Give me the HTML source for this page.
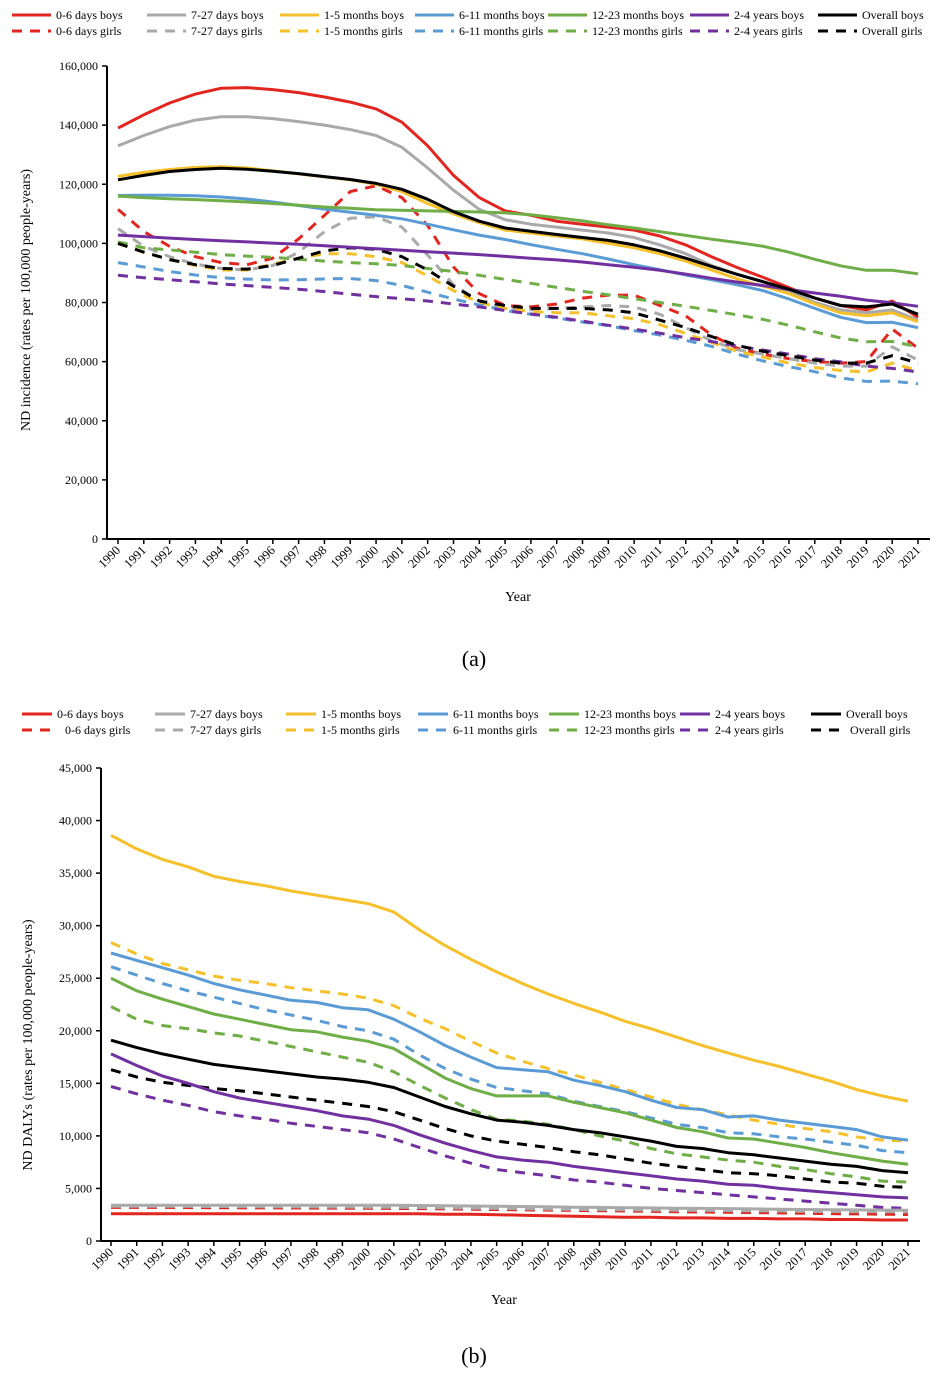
<!DOCTYPE html>
<html><head><meta charset="utf-8">
<style>
body{margin:0;background:#fff;width:940px;height:1378px;overflow:hidden}
svg{display:block;font-family:"Liberation Serif",serif}
</style></head>
<body>
<svg id="s" width="940" height="1378"></svg>
<script>
const years=[];for(let y=1990;y<=2021;y++)years.push(y);
const seriesNames=["0-6 days","7-27 days","1-5 months","6-11 months","12-23 months","2-4 years","Overall"];
const seriesColors=["#e2261f","#a9a9a9","#f6c02b","#5b9bd5","#6fad46","#7030a0","#000000"];
// Chart A: incidence
const aBoys06=[139000,143500,147500,150500,152500,152700,152000,151000,149500,147800,145500,141000,133000,123000,115500,111000,109500,107500,106500,105500,104500,102500,99500,95500,91800,88500,85000,81500,79000,77500,80500,75000];
const aBoys727=[133000,136500,139500,141700,142800,142800,142200,141200,140000,138500,136500,132500,125500,118000,111500,108000,106500,105500,104500,103500,102000,99500,96500,92500,89500,87000,84000,80000,77500,76500,77500,74000];
const aBoys15=[122700,124000,125000,125700,125900,125500,124500,123500,122500,121500,120000,117500,113500,110000,107000,104500,103500,102500,101500,100000,98500,96500,94000,91000,88000,85500,83000,79500,76500,75500,76500,73500];
const aBoys611=[116200,116300,116300,116100,115700,115000,114000,112800,111600,110500,109500,108300,106500,104600,102800,101300,99600,98000,96500,94700,92800,91100,89300,87700,86000,84000,81200,78000,75000,73200,73300,71500];
const aBoys1223=[116000,115500,115100,114800,114400,114000,113500,112900,112300,111900,111400,111200,111000,110800,110600,110300,109700,108700,107600,106300,105200,104000,102700,101400,100300,99000,97000,94600,92400,90900,90900,89700];
const aBoys24=[102800,102300,101800,101300,100900,100500,100100,99700,99200,98700,98200,97700,97200,96700,96200,95600,95000,94400,93700,92800,91900,90900,89600,88200,86900,85700,84400,83200,82100,80800,79900,78700];
const aBoysAll=[121500,123000,124300,125000,125400,125100,124400,123600,122600,121600,120300,118300,114900,110700,107500,105200,104100,103000,102000,101000,99500,97500,95000,92200,89500,87000,84500,81500,79000,78500,79500,76000];
const aGirls06=[111500,104000,99000,95500,93500,92800,95000,101500,109500,117500,119500,115500,106000,92000,83000,79000,78500,79500,81500,82500,82500,79000,75500,69000,64500,62500,61000,60000,59500,60000,71000,64500];
const aGirls727=[105000,99000,95500,93000,91500,91000,92500,97000,104000,108500,109000,105500,96000,86000,80500,78000,77500,78000,78500,79000,78500,76000,71500,67000,64000,62500,61000,59500,58500,58500,65000,60500];
const aGirls15=[100000,97000,94500,92500,91000,91000,93000,95000,96500,96500,95500,93500,89000,84000,80000,78000,77000,76500,76500,75500,74500,72500,69500,66500,63500,61500,59500,58000,57000,56500,59500,57000];
const aGirls611=[93500,92000,90500,89300,88400,87900,87600,87700,88000,88100,87400,85800,83500,81200,79200,77300,76000,74800,73400,72200,70500,69000,67200,65200,62500,60200,58300,56600,54500,53300,53400,52500];
const aGirls1223=[100500,98500,97800,97000,96200,95700,95300,94600,94000,93500,93100,92500,91500,90500,89200,87800,86500,85100,83800,82600,81300,80000,78700,77300,75800,74300,72300,70100,68000,66700,66800,65000];
const aGirls24=[89200,88400,87700,87000,86300,85700,85100,84500,83700,82800,82000,81300,80500,79500,78500,77300,76100,75000,73700,72300,71000,69600,68100,66800,65300,63900,62500,61000,59900,58500,57700,56500];
const aGirlsAll=[100000,97000,94500,92800,91500,91300,92500,95000,97500,98500,98000,95500,91000,85500,80500,79000,78000,78000,78000,77500,76500,74000,71500,68500,65500,63500,62000,60500,59500,59500,62000,59500];
const aTicks=[0,20000,40000,60000,80000,100000,120000,140000,160000];
// Chart B: DALYs
const bBoys06=[2600,2600,2600,2600,2600,2600,2600,2600,2600,2600,2600,2600,2600,2550,2550,2500,2450,2400,2350,2300,2250,2250,2200,2200,2150,2150,2100,2100,2050,2050,2000,2000];
const bBoys727=[3400,3400,3400,3400,3400,3400,3400,3400,3400,3400,3400,3400,3380,3350,3330,3300,3280,3250,3220,3200,3170,3150,3120,3100,3080,3050,3020,3000,2980,2960,2940,2920];
const bBoys15=[38600,37300,36300,35600,34700,34200,33800,33300,32900,32500,32100,31300,29600,28100,26800,25600,24500,23500,22600,21800,20900,20200,19400,18600,17900,17200,16600,15900,15200,14400,13800,13300];
const bBoys611=[27400,26700,26000,25300,24500,23900,23400,22900,22700,22200,22000,21100,19900,18600,17500,16500,16300,16100,15300,14800,14200,13400,12700,12500,11800,11900,11500,11200,10900,10600,9900,9600];
const bBoys1223=[25000,23800,23000,22300,21600,21100,20600,20100,19900,19400,19000,18300,16900,15500,14500,13800,13800,13800,13200,12700,12200,11500,10800,10400,9800,9700,9300,8900,8400,8000,7600,7300];
const bBoys24=[17800,16700,15700,15000,14200,13600,13200,12800,12400,11900,11600,11000,10100,9300,8600,8000,7700,7500,7100,6800,6500,6200,5900,5700,5400,5300,5000,4800,4600,4400,4200,4100];
const bBoysAll=[19100,18400,17800,17300,16800,16500,16200,15900,15600,15400,15100,14600,13700,12800,12100,11500,11300,11000,10600,10300,9900,9500,9000,8800,8400,8200,7900,7600,7300,7100,6700,6500];
const bGirls06=[3200,3200,3200,3180,3170,3160,3150,3140,3130,3120,3110,3100,3080,3050,3020,3000,2970,2940,2910,2880,2850,2820,2790,2760,2730,2700,2670,2640,2610,2580,2550,2520];
const bGirls727=[3300,3300,3300,3290,3280,3270,3260,3250,3240,3230,3220,3210,3190,3160,3130,3100,3070,3040,3010,2990,2970,2950,2930,2910,2890,2870,2850,2830,2810,2800,2790,2780];
const bGirls15=[28400,27300,26400,25800,25200,24800,24500,24100,23800,23500,23100,22400,21200,20200,19000,17900,17100,16400,15800,15100,14400,13700,13000,12500,12000,11500,11100,10700,10400,9900,9600,9500];
const bGirls611=[26100,25300,24500,23800,23200,22600,22000,21500,21000,20400,20000,19200,17700,16400,15400,14600,14300,14000,13300,12800,12300,11700,11100,10800,10300,10200,9900,9700,9400,9100,8600,8400];
const bGirls1223=[22300,21100,20500,20200,19800,19500,19000,18500,18000,17500,17000,16100,14800,13600,12500,11600,11400,11100,10600,10000,9500,8800,8300,8000,7700,7500,7100,6800,6400,6100,5700,5600];
const bGirls24=[14700,14000,13400,12900,12300,11900,11600,11200,10900,10600,10300,9700,8900,8100,7400,6800,6500,6200,5800,5600,5300,5000,4800,4600,4400,4200,4000,3800,3600,3400,3200,3100];
const bGirlsAll=[16300,15600,15100,14800,14500,14300,14000,13700,13400,13100,12800,12300,11500,10700,10000,9500,9200,8900,8500,8200,7800,7400,7100,6800,6500,6400,6200,5900,5600,5500,5200,5100];
const bTicks=[0,5000,10000,15000,20000,25000,30000,35000,40000,45000];

const NS="http://www.w3.org/2000/svg";
const svg=document.getElementById('s');
function mk(tag,attrs,parent,text){const e=document.createElementNS(NS,tag);for(const k in attrs)e.setAttribute(k,attrs[k]);if(text!==undefined)e.textContent=text;(parent||svg).appendChild(e);return e;}
function fmt(v){return v.toLocaleString('en-US');}

function chart(cfg){
  const g=mk('g',{});
  
  
  const xS=i=>cfg.x0+(cfg.x1-cfg.x0)*i/(years.length-1);
  const yS=v=>cfg.yb-(cfg.yb-cfg.yt)*v/cfg.ymax;
  seriesNames.forEach((n,i)=>{
    const lx=cfg.legX[i];
    ['boys','girls'].forEach((sx,j)=>{
      const ly=cfg.legY+j*16;
      const le=mk('g',{},g);
      
      
      mk('line',{x1:lx,x2:lx+cfg.legLen,y1:ly,y2:ly,stroke:seriesColors[i],'stroke-width':3,'stroke-dasharray':j?'10,8':'none'},le);
      mk('text',{x:lx+cfg.legLen+5+(j?(cfg.girlsShift[i]||0):0),y:ly+4,'font-size':12},le,n+' '+sx);
    });
  });
  const ya=mk('line',{x1:cfg.ax,x2:cfg.ax,y1:cfg.yt,y2:cfg.yb,stroke:'#000','stroke-width':2},g);
  
  const xa=mk('line',{x1:cfg.ax,x2:cfg.xe,y1:cfg.yb,y2:cfg.yb,stroke:'#000','stroke-width':2},g);
  
  cfg.ticks.forEach(t=>{
    mk('line',{x1:cfg.ax-5,x2:cfg.ax,y1:yS(t),y2:yS(t),stroke:'#000','stroke-width':1.5},g);
    const tl=mk('text',{x:cfg.ax-9,y:yS(t)+4,'font-size':12,'text-anchor':'end'},g,fmt(t));
    
  });
  years.forEach((yr,i)=>{
    const x=xS(i);
    mk('line',{x1:x,x2:x,y1:cfg.yb,y2:cfg.yb+5,stroke:'#000','stroke-width':1.5},g);
    const tl=mk('text',{x:x+3,y:cfg.yb+12,'font-size':12.5,'text-anchor':'end',transform:`rotate(-45 ${x+3} ${cfg.yb+12})`},g,yr);
    
  });
  const xt=mk('text',{x:cfg.xtx,y:cfg.xty,'font-size':14,'text-anchor':'middle'},g,'Year');
  
  const yt=mk('text',{x:cfg.ytx,y:cfg.yty,'font-size':14,'text-anchor':'middle',transform:`rotate(-90 ${cfg.ytx} ${cfg.yty})`},g,cfg.ytitle);
  
  const pl=mk('text',{x:474,y:cfg.panelY,'font-size':22,'text-anchor':'middle'},g,cfg.panel);
  
  [cfg.girls,cfg.boys].forEach((set,j)=>{
    set.forEach((arr,i)=>{
      const d=arr.map((v,k)=>(k?'L':'M')+xS(k).toFixed(1)+','+yS(v).toFixed(1)).join('');
      const p=mk('path',{d:d,fill:'none',stroke:seriesColors[i],'stroke-width':3,'stroke-linejoin':'round','stroke-dasharray':j===0?'10,8':'none'},g);
      
      
    });
  });
}
chart({name:'chart-a-incidence',x0:118,x1:918,ax:107,xe:930,yt:66,yb:539,ymax:160000,ticks:aTicks,
  legX:[12,147,280,415,548,690,818],legY:15,legLen:39,girlsShift:[0,0,0,0,0,0,0],
  xtx:518,xty:601,ytx:30,yty:300,ytitle:'ND incidence (rates per 100,000 people-years)',panel:'(a)',panelY:666,
  boys:[aBoys06,aBoys727,aBoys15,aBoys611,aBoys1223,aBoys24,aBoysAll],
  girls:[aGirls06,aGirls727,aGirls15,aGirls611,aGirls1223,aGirls24,aGirlsAll]});
chart({name:'chart-b-dalys',x0:111,x1:908,ax:101,xe:920,yt:768,yb:1241,ymax:45000,ticks:bTicks,
  legX:[22,155,286,418,549,680,811],legY:714,legLen:30,girlsShift:[8,0,0,0,0,0,4],
  xtx:504,xty:1304,ytx:32,yty:1045,ytitle:"ND DALYs (rates per 100,000 people-years)",panel:'(b)',panelY:1363,
  boys:[bBoys06,bBoys727,bBoys15,bBoys611,bBoys1223,bBoys24,bBoysAll],
  girls:[bGirls06,bGirls727,bGirls15,bGirls611,bGirls1223,bGirls24,bGirlsAll]});
</script>
</body></html>
